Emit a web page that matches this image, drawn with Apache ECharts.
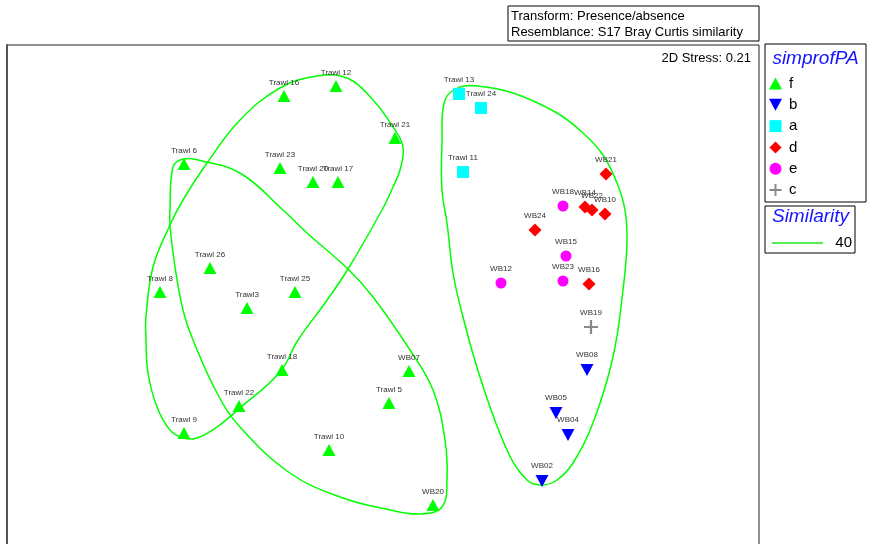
<!DOCTYPE html>
<html><head><meta charset="utf-8">
<script src="https://cdn.jsdelivr.net/npm/echarts@6/dist/echarts.min.js"></script>
<style>html,body{margin:0;padding:0;background:#fff}#c{width:870px;height:544px}</style>
</head><body><div id="c"></div>
<script>
// ---- MDS coordinates (arbitrary units) ----
const fNames = ['Trawl 16','Trawl 12','Trawl 21','Trawl 6','Trawl 23','Trawl 20','Trawl 17','Trawl 26','Trawl 8','Trawl3','Trawl 25','Trawl 18','WB07','Trawl 22','Trawl 5','Trawl 9','Trawl 10','WB20'];
const fX = [-1.16,-0.64,-0.05,-2.16,-1.20,-0.87,-0.62,-1.90,-2.40,-1.53,-1.05,-1.18,0.09,-1.61,-0.11,-2.16,-0.71,0.33];
const fY = [2.04,2.14,1.62,1.36,1.32,1.18,1.18,0.32,0.08,-0.08,0.08,-0.70,-0.71,-1.06,-1.03,-1.33,-1.50,-2.05];

const bNames = ['WB08','WB05','WB04','WB02'];
const bX = [1.87,1.56,1.68,1.42];
const bY = [-0.70,-1.13,-1.35,-1.81];

const aNames = ['Trawl 13','Trawl 24','Trawl 11'];
const aX = [0.59,0.81,0.63];
const aY = [2.06,1.92,1.28];

const dNames = ['WB21','WB14','WB22','WB10','WB24','WB16'];
const dX = [2.06,1.85,1.92,2.05,1.35,1.89];
const dY = [1.26,0.93,0.90,0.86,0.70,0.16];

const eNames = ['WB18','WB15','WB12','WB23'];
const eX = [1.63,1.66,1.01,1.63];
const eY = [0.94,0.44,0.17,0.19];

const cNames = ['WB19'];
const cX = [1.91];
const cY = [-0.27];

// ---- Similarity 40 contours ----
const loopAX = [-0.83,-0.53,-0.27,-0.07,0.03,0.00,-0.07,-0.18,-0.52,-0.75,-1.02,-1.20,-1.60,-1.83,-2.03,-2.17,-2.30,-2.43,-2.52,-2.54,-2.54,-2.47,-2.30,-2.17,-1.93,-1.60,-1.20];
const loopAY = [2.24,2.22,2.00,1.73,1.53,1.30,1.13,0.90,0.31,-0.03,-0.40,-0.72,-1.08,-1.27,-1.38,-1.38,-1.30,-1.07,-0.73,-0.40,-0.17,0.33,0.75,1.00,1.37,1.80,2.12];
const loopBX = [-2.17,-2.02,-1.60,-1.17,-0.93,-0.52,-0.27,0.10,0.33,0.45,0.47,0.42,0.20,-0.10,-0.60,-1.10,-1.60,-1.83,-2.07,-2.17,-2.25,-2.30,-2.30,-2.27];
const loopBY = [1.41,1.40,1.27,0.90,0.67,0.31,0.03,-0.50,-0.90,-1.40,-1.80,-2.07,-2.14,-2.10,-1.97,-1.73,-1.27,-0.93,-0.40,-0.10,0.33,0.74,0.90,1.33];
const loopCX = [0.60,0.77,1.13,1.57,1.83,2.03,2.17,2.25,2.27,2.23,2.13,1.93,1.73,1.57,1.42,1.27,1.07,0.80,0.62,0.53,0.47,0.42,0.42,0.45];
const loopCY = [2.13,2.14,2.07,1.87,1.67,1.45,1.17,0.90,0.57,0.10,-0.57,-1.23,-1.63,-1.80,-1.85,-1.80,-1.50,-0.77,-0.13,0.27,0.77,1.10,1.57,2.00];

const groupNames = ['f','b','a','d','e','c'];
const similarityLevel = '40';

const zip = (xs, ys, ns) => xs.map((x, i) => ns ? {name: ns[i], value: [x, ys[i]]} : [x, ys[i]]);

const FONT = '"Liberation Sans", Arial, sans-serif';
const GREEN = '#00ff00';
const PLUS = 'path://M4.2,0h1.6v4.2h4.2v1.6h-4.2v4.2h-1.6v-4.2h-4.2v-1.6h4.2z';
const DOWN_TRI = 'path://M0,0L12,0L6,11Z';

function scatter(name, names, xs, ys, symbol, size, color, labelDy, rotate) {
  return {
    type: 'scatter', name: name, data: zip(xs, ys, names),
    symbol: symbol, symbolSize: size, symbolRotate: rotate || 0,
    itemStyle: {color: color, opacity: 1},
    z: 5,
    label: {show: true, position: 'inside', offset: [0, labelDy], formatter: '{b}',
      fontSize: 8, fontFamily: FONT, color: '#333'},
    emphasis: {disabled: true}
  };
}

function contour(xs, ys) {
  const pts = zip(xs, ys);
  return {
    type: 'custom', name: 'contour', data: pts, z: 2, silent: true, clip: false,
    renderItem: function (params, api) {
      if (params.dataIndex !== 0) return null;
      const shape = pts.map(p => api.coord(p));
      return {type: 'polygon', shape: {points: shape, smooth: 0.4},
        style: {fill: 'none', stroke: GREEN, lineWidth: 1.5}};
    }
  };
}

const legendIcons = {f: 'triangle', b: DOWN_TRI, a: 'path://M1,1h10v10h-10z', d: 'path://M6,0L12,6L6,12L0,6Z', e: 'path://M6,1a5,5 0 1,0 0.01,0z', c: PLUS};

const chart = echarts.init(document.getElementById('c'), null, {renderer: 'canvas'});
chart.setOption({
  animation: false,
  backgroundColor: '#fff',
  grid: {left: 7, top: 45, width: 752, height: 519, show: true, borderColor: '#222', borderWidth: 1,
    containLabel: false, outerBoundsMode: 'none'},
  xAxis: {type: 'value', min: -3.93, max: 3.59, show: false},
  yAxis: {type: 'value', min: -2.64, max: 2.55, show: true,
    axisLine: {show: true, onZero: false, lineStyle: {color: '#555', width: 2}},
    axisTick: {show: false}, axisLabel: {show: false}, splitLine: {show: false}},
  legend: {
    orient: 'vertical', left: 769, top: 76, padding: 0,
    itemWidth: 13, itemHeight: 12, itemGap: 6.3,
    data: groupNames.map(n => ({name: n, icon: legendIcons[n]})),
    textStyle: {fontSize: 15, fontFamily: FONT, color: '#000', padding: [0, 0, 0, 2]},
    selectedMode: false
  },
  series: [
    contour(loopAX, loopAY),
    contour(loopBX, loopBY),
    contour(loopCX, loopCY),
    scatter('f', fNames, fX, fY, 'triangle', [13, 12], '#00ff00', -13),
    scatter('b', bNames, bX, bY, DOWN_TRI, [13, 12], '#0000ff', -15),
    scatter('a', aNames, aX, aY, 'rect', 12, '#00ffff', -14.5),
    scatter('d', dNames, dX, dY, 'diamond', 13, '#ff0000', -14.5),
    scatter('e', eNames, eX, eY, 'circle', 11, '#ff00ff', -14.5),
    scatter('c', cNames, cX, cY, PLUS, 14, '#888888', -14.5)
  ],
  graphic: [
    {type: 'rect', shape: {x: 508, y: 6, width: 251, height: 35}, style: {fill: '#fff', stroke: '#000', lineWidth: 1}, z: 10},
    {type: 'text', x: 511, y: 16, style: {text: 'Transform: Presence/absence', font: '13px ' + FONT, fill: '#000', verticalAlign: 'middle'}, z: 11},
    {type: 'text', x: 511, y: 32.5, style: {text: 'Resemblance: S17 Bray Curtis similarity', font: '13px ' + FONT, fill: '#000', verticalAlign: 'middle'}, z: 11},
    {type: 'text', x: 751, y: 58.5, style: {text: '2D Stress: 0.21', font: '13px ' + FONT, fill: '#000', align: 'right', verticalAlign: 'middle'}, z: 11},
    {type: 'rect', shape: {x: 765, y: 44, width: 101, height: 158}, style: {fill: 'none', stroke: '#000', lineWidth: 1}, z: 10},
    {type: 'text', x: 815.5, y: 58.5, style: {text: 'simprofPA', font: 'italic 19px ' + FONT, fill: '#1414ff', align: 'center', verticalAlign: 'middle'}, z: 11},
    {type: 'rect', shape: {x: 765, y: 206, width: 90, height: 47}, style: {fill: 'none', stroke: '#000', lineWidth: 1}, z: 10},
    {type: 'text', x: 810.5, y: 217, style: {text: 'Similarity', font: 'italic 19px ' + FONT, fill: '#1414ff', align: 'center', verticalAlign: 'middle'}, z: 11},
    {type: 'line', shape: {x1: 772, y1: 243, x2: 823, y2: 243}, style: {stroke: '#55ee55', lineWidth: 2}, z: 11},
    {type: 'text', x: 852, y: 243, style: {text: similarityLevel, font: '15px ' + FONT, fill: '#000', align: 'right', verticalAlign: 'middle'}, z: 11}
  ]
});
</script>
</body></html>
